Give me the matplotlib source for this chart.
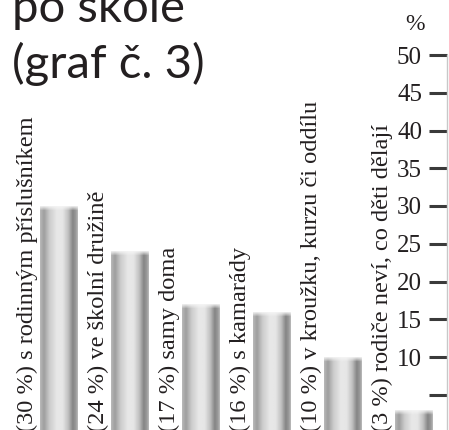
import matplotlib.pyplot as plt
import numpy as np

# data
labels = [
    "(30 %) s rodinným příslušníkem",
    "(24 %) ve školní družině",
    "(17 %) samy doma",
    "(16 %) s kamarády",
    "(10 %) v kroužku, kurzu či oddílu",
    "(3 %) rodiče neví, co děti dělají",
]
values = [30, 24, 17, 16, 10, 3]
yticks = [5, 10, 15, 20, 25, 30, 35, 40, 45, 50]
yticklabels = ["", "10", "15", "20", "25", "30", "35", "40", "45", "50"]

W, H = 449, 430
fig = plt.figure(figsize=(W / 100, H / 100), dpi=100)
fig.patch.set_facecolor("white")

# axes: 0 sits just under the picture, 50 at y=55 px
y0_px, y50_px = 432.5, 55
ax = fig.add_axes([0, 1 - y0_px / H, 447 / W, (y0_px - y50_px) / H])
ax.set_facecolor("none")

x = np.arange(len(values))
width = 0.53
bars = ax.bar(x, values, width=width, color="none", edgecolor="none")

# cylinder-like horizontal shading
stops_x = [0.0, 0.1, 0.25, 0.45, 0.6, 0.75, 0.87, 0.95, 1.0]
stops_v = [0.72, 0.62, 0.80, 0.91, 0.90, 0.75, 0.52, 0.60, 0.72]
nx = 60
profile = np.interp(np.linspace(0, 1, nx), stops_x, stops_v)
px_per_unit = (y0_px - y50_px) / 50

for b in bars:
    hpx = max(int(b.get_height() * px_per_unit), 2)
    img = np.tile(profile, (hpx, 1))
    fade = np.ones(hpx)
    n = min(5, hpx)
    fade[-n:] = np.linspace(1, 0.15, n)
    img = img * fade[:, None] + 0.96 * (1 - fade[:, None])
    im = ax.imshow(img, extent=(b.get_x(), b.get_x() + b.get_width(), 0, b.get_height()),
                   origin="lower", aspect="auto", cmap="gray", vmin=0, vmax=1,
                   interpolation="bilinear", zorder=2)
    im.set_clip_path(b)

# rotated labels left of every bar
for xi, lab in zip(x, labels):
    ax.text(xi - width / 2 - 0.1, 0, lab, rotation=90, rotation_mode="anchor",
            ha="left", va="baseline", family="Liberation Serif", fontsize=17.6,
            color="#231f20", zorder=3)

ax.set_xlim(-59 / 71, (447 - 59) / 71)
ax.set_ylim(0, 50)

# y axis drawn at the right edge, labels to its left
for s in ["top", "right", "bottom"]:
    ax.spines[s].set_visible(False)
ax.spines["left"].set_position(("axes", 1.0))
ax.spines["left"].set_color("#c8c8c8")
ax.spines["left"].set_linewidth(1)
ax.spines["left"].set_bounds(0, 50)
ax.set_xticks([])
ax.set_yticks(yticks)
ax.set_yticklabels(yticklabels, family="Liberation Serif", fontsize=18, color="#231f20")
ax.tick_params(axis="y", length=13, width=2.2, color="#3a3a3a", pad=5)

fig.text(415 / W, 1 - 25 / H, "%", ha="center", va="center",
         family="Liberation Serif", fontsize=17, color="#231f20")

# title, top line cut off by the frame
fig.text(12 / W, 1 - 22 / H, "po škole", ha="left", va="baseline",
         family="Lato", fontsize=34, color="#231f20")
fig.text(12 / W, 1 - 78 / H, "(graf č. 3)", ha="left", va="baseline",
         family="Lato", fontsize=34, color="#231f20")

fig.savefig("out.png", dpi=100)
